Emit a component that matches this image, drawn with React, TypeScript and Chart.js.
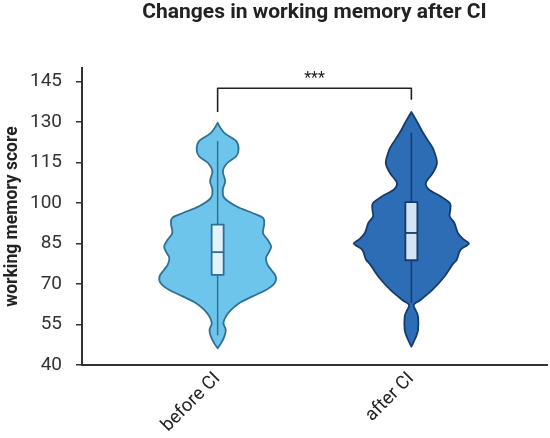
import { useEffect, useRef } from 'react';
import { Chart, registerables } from 'chart.js';

Chart.register(...registerables);

const TITLE = 'Changes in working memory after CI';
const Y_TITLE = 'working memory score';
const CATEGORIES = ['before CI', 'after CI'];
const Y_TICKS = [40, 55, 70, 85, 100, 115, 130, 145];

// violin profiles (value levels, ascending) and relative density (half-width)
const BEFORE_LEVELS = [46.2, 48.1, 50.5, 53.0, 55.5, 57.9, 60.4, 62.9, 65.4, 67.8, 70.3, 72.8, 75.3, 77.1, 79.6, 82.1, 83.9, 86.4, 88.9, 92.0, 94.5, 96.3, 98.8, 101.9, 105.0, 108.1, 111.8, 114.9, 117.3, 119.8, 122.9, 126.0, 129.7];
const BEFORE_DENSITY = [0, 0.06, 0.115, 0.14, 0.1, 0.14, 0.23, 0.37, 0.6, 0.83, 0.98, 1.0, 0.92, 0.86, 0.83, 0.89, 0.92, 0.86, 0.78, 0.8, 0.78, 0.6, 0.32, 0.115, 0.09, 0.13, 0.09, 0.17, 0.32, 0.36, 0.32, 0.115, 0];
const AFTER_LEVELS = [46.8, 50.0, 53.0, 57.9, 60.0, 62.3, 64.1, 67.8, 72.8, 77.0, 79.0, 81.5, 83.0, 85.0, 86.5, 88.9, 92.6, 95.0, 97.5, 100.0, 102.5, 105.0, 107.5, 111.2, 114.9, 119.8, 122.0, 126.0, 130.0, 133.7];
const AFTER_DENSITY = [0, 0.07, 0.115, 0.115, 0.08, 0.04, 0.155, 0.36, 0.57, 0.7, 0.78, 0.82, 0.86, 0.99, 0.9, 0.8, 0.74, 0.66, 0.67, 0.66, 0.5, 0.3, 0.25, 0.37, 0.44, 0.38, 0.32, 0.2, 0.1, 0];

// box plot statistics per category
const WHISKER_LOW = [51, 63];
const BOX_Q1 = [73.4, 78.8];
const BOX_MEDIAN = [81.8, 88.9];
const BOX_Q3 = [92.0, 100.3];
const WHISKER_HIGH = [122.9, 126.0];

// significance bracket
const BRACKET_TOP = 142.5;
const BRACKET_LEG_ENDS = [134, 138.5];
const BRACKET_LABEL = '***';

const FILLS = ['#6EC5EC', '#2C6DB5'];
const STROKES = ['#2F7093', '#173C69'];
const BOX_FILLS = ['#E3F3FB', '#D5E4F4'];

const FONT = 'Roboto, "Noto Sans", sans-serif';

type Pt = { x: number; y: number; tip: boolean };

function drawSmooth(ctx: CanvasRenderingContext2D, pts: Pt[]) {
  const n = pts.length;
  const tan = pts.map((p, i) => {
    if (p.tip) return { x: 0, y: 0 };
    const a = pts[(i - 1 + n) % n];
    const b = pts[(i + 1) % n];
    return { x: (b.x - a.x) / 2, y: (b.y - a.y) / 2 };
  });
  ctx.beginPath();
  ctx.moveTo(pts[0].x, pts[0].y);
  for (let i = 0; i < n; i++) {
    const p1 = pts[i];
    const p2 = pts[(i + 1) % n];
    const t1 = tan[i];
    const t2 = tan[(i + 1) % n];
    ctx.bezierCurveTo(p1.x + t1.x / 3, p1.y + t1.y / 3, p2.x - t2.x / 3, p2.y - t2.y / 3, p2.x, p2.y);
  }
  ctx.closePath();
}

const violinPlugin = {
  id: 'violins',
  afterDatasetsDraw(chart: any, _args: any, opts: any) {
    const { ctx } = chart;
    const xs = chart.scales.x;
    const ys = chart.scales.y;
    const half = opts.halfWidth;
    const profiles = [
      { levels: BEFORE_LEVELS, dens: BEFORE_DENSITY },
      { levels: AFTER_LEVELS, dens: AFTER_DENSITY },
    ];
    ctx.save();
    profiles.forEach((pr, k) => {
      const c = k + 1;
      const n = pr.levels.length;
      const pts: Pt[] = [];
      for (let i = 0; i < n; i++) {
        pts.push({
          x: xs.getPixelForValue(c - pr.dens[i] * half),
          y: ys.getPixelForValue(pr.levels[i]),
          tip: i === 0 || i === n - 1,
        });
      }
      for (let i = n - 2; i >= 1; i--) {
        pts.push({
          x: xs.getPixelForValue(c + pr.dens[i] * half),
          y: ys.getPixelForValue(pr.levels[i]),
          tip: false,
        });
      }
      drawSmooth(ctx, pts);
      ctx.fillStyle = FILLS[k];
      ctx.fill();
      ctx.lineWidth = 1.8;
      ctx.lineJoin = 'round';
      ctx.strokeStyle = STROKES[k];
      ctx.stroke();

      const cx = xs.getPixelForValue(c);
      ctx.beginPath();
      ctx.moveTo(cx, ys.getPixelForValue(WHISKER_LOW[k]));
      ctx.lineTo(cx, ys.getPixelForValue(WHISKER_HIGH[k]));
      ctx.lineWidth = 1.5;
      ctx.stroke();
      const bw = opts.boxHalfWidth;
      const yTop = ys.getPixelForValue(BOX_Q3[k]);
      const yBot = ys.getPixelForValue(BOX_Q1[k]);
      ctx.beginPath();
      ctx.rect(cx - bw, yTop, bw * 2, yBot - yTop);
      ctx.fillStyle = BOX_FILLS[k];
      ctx.fill();
      ctx.lineWidth = 1.8;
      ctx.stroke();
      const ym = ys.getPixelForValue(BOX_MEDIAN[k]);
      ctx.beginPath();
      ctx.moveTo(cx - bw, ym);
      ctx.lineTo(cx + bw, ym);
      ctx.stroke();
    });

    const x1 = xs.getPixelForValue(1);
    const x2 = xs.getPixelForValue(2);
    const yb = ys.getPixelForValue(BRACKET_TOP);
    ctx.beginPath();
    ctx.moveTo(x1, ys.getPixelForValue(BRACKET_LEG_ENDS[0]));
    ctx.lineTo(x1, yb);
    ctx.lineTo(x2, yb);
    ctx.lineTo(x2, ys.getPixelForValue(BRACKET_LEG_ENDS[1]));
    ctx.strokeStyle = '#222';
    ctx.lineWidth = 1.6;
    ctx.lineCap = 'square';
    ctx.stroke();
    ctx.fillStyle = '#222';
    ctx.font = `16px ${FONT}`;
    ctx.textAlign = 'center';
    ctx.textBaseline = 'alphabetic';
    ctx.fillText(BRACKET_LABEL, (x1 + x2) / 2, yb - 5);
    ctx.restore();
  },
};

export default function App() {
  const ref = useRef<HTMLCanvasElement | null>(null);
  useEffect(() => {
    document.body.style.margin = '0';
    const canvas = ref.current;
    if (!canvas) return;
    const chart = new Chart(canvas, {
      type: 'scatter',
      data: { datasets: [{ data: [], pointRadius: 0 }] },
      plugins: [violinPlugin],
      options: {
        responsive: false,
        animation: false,
        layout: { padding: { left: 0, right: 3, top: 0, bottom: 0 } },
        plugins: {
          legend: { display: false },
          tooltip: { enabled: false },
          title: {
            display: true,
            text: TITLE,
            fullSize: false,
            color: '#222',
            font: { family: FONT, size: 21, weight: 'bold' },
            padding: { top: 0.5, bottom: 42.3 },
          },
          violins: { halfWidth: 0.3, boxHalfWidth: 6 },
        } as any,
        scales: {
          x: {
            type: 'linear',
            min: 0.3,
            max: 2.7,
            afterBuildTicks: (s: any) => {
              s.ticks = CATEGORIES.map((_, i) => ({ value: i + 1 }));
            },
            afterFit: (s: any) => {
              s.height = 73;
            },
            grid: { display: true, drawOnChartArea: false, drawTicks: false, color: 'rgba(0,0,0,0)' },
            border: { display: true, color: '#333', width: 2 },
            ticks: {
              autoSkip: false,
              minRotation: 45,
              maxRotation: 45,
              padding: 3,
              color: '#222',
              font: { family: FONT, size: 18.5 },
              callback: (v: any) => CATEGORIES[Math.round(v) - 1] ?? '',
            },
          },
          y: {
            type: 'linear',
            min: 40,
            max: 150,
            afterBuildTicks: (s: any) => {
              s.ticks = Y_TICKS.map((v) => ({ value: v }));
            },
            afterFit: (s: any) => {
              s.width = 82;
            },
            grid: { display: true, drawOnChartArea: false, drawTicks: true, tickLength: 6, color: '#333', lineWidth: 1.5 },
            border: { display: true, color: '#333', width: 2 },
            title: {
              display: true,
              text: Y_TITLE,
              color: '#222',
              font: { family: FONT, size: 17.5, weight: 'bold' },
              padding: { top: 2.5, bottom: 0 },
            },
            ticks: {
              padding: 14,
              color: '#333',
              font: { family: FONT, size: 19 },
            },
          },
        },
      } as any,
    });
    return () => chart.destroy();
  }, []);
  return (
    <div style={{ width: 550, height: 438 }}>
      <canvas ref={ref} width={550} height={438} style={{ display: 'block' }} />
    </div>
  );
}
